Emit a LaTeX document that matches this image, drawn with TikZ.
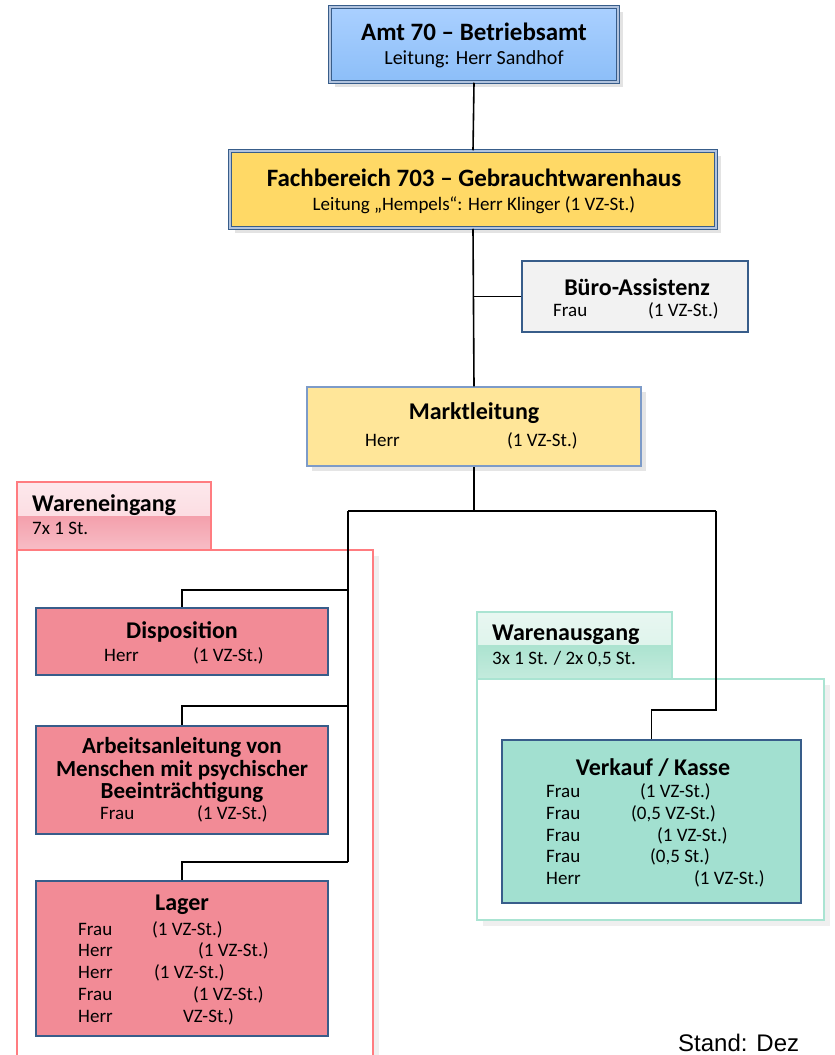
\documentclass[tikz,border=0pt]{standalone}
\usepackage{fontspec}
\setmainfont{Carlito}
\newfontfamily\standfont{Liberation Sans}
\usetikzlibrary{shadows}
\definecolor{lineBlue}{RGB}{56,93,138}
\definecolor{softBlue}{RGB}{125,155,200}
\definecolor{amtTop}{RGB}{170,208,255}
\definecolor{amtBot}{RGB}{140,190,248}
\definecolor{fachFill}{RGB}{255,217,102}
\definecolor{marktFill}{RGB}{255,230,153}
\definecolor{bueroFill}{RGB}{242,242,242}
\definecolor{pinkFill}{RGB}{242,139,150}
\definecolor{pinkLine}{RGB}{255,124,128}
\definecolor{pinkLight}{RGB}{253,232,236}
\definecolor{pinkMid}{RGB}{244,160,172}
\definecolor{mintFill}{RGB}{162,224,208}
\definecolor{mintLine}{RGB}{170,228,210}
\definecolor{mintLight}{RGB}{232,247,241}
\definecolor{mintMid}{RGB}{172,227,208}
\tikzset{orgbox/.style={draw=lineBlue, line width=1.5pt, inner sep=0pt},
    topbox/.style={orgbox, double=softBlue!60, double distance=1.4pt,
        drop shadow={shadow xshift=5pt, shadow yshift=-5pt, fill=black!22}},
    frame/.style={draw=#1, line width=1.3pt, fill=white,
        drop shadow={shadow xshift=6pt, shadow yshift=-6pt, fill=black!12}},
    headbox/.style={draw=#1, line width=1.3pt},
    title/.style={font=\bfseries\fontsize{24}{24.5}\selectfont, inner sep=0pt, align=center},
    body/.style={font=\fontsize{19}{21}\selectfont, inner sep=0pt, anchor=west,
        text height=12pt, text depth=3.5pt},
    conn/.style={line width=1.6pt},
    }

\begin{document}
\begin{tikzpicture}[x=1pt,y=-1pt]
	\useasboundingbox (0,0) rectangle (835,1055);
	% frames of the two groups
	\node[frame=pinkLine, minimum width=356pt, minimum height=520pt] (weFrame) at (195,810) {};
	\node[frame=mintLine, minimum width=347pt, minimum height=241pt] (waFrame) at (650.5,799.5) {};
	\node[headbox=pinkLine, minimum width=194pt, minimum height=68pt,
		path picture={\shade[top color=pinkLight, bottom color=pinkLight!70!pinkMid] (path picture bounding box.north west) rectangle (path picture bounding box.east);
		\shade[top color=pinkMid, bottom color=pinkMid!60!pinkLight] (path picture bounding box.west) rectangle (path picture bounding box.south east);}] (weHead) at (114,516) {};
	\node[headbox=mintLine, minimum width=195pt, minimum height=67pt,
		path picture={\shade[top color=mintLight, bottom color=mintLight!70!mintMid] (path picture bounding box.north west) rectangle (path picture bounding box.east);
		\shade[top color=mintMid, bottom color=mintMid!60!mintLight] (path picture bounding box.west) rectangle (path picture bounding box.south east);}] (waHead) at (574.5,645.5) {};
	\node[title, anchor=west] (weTitle) at (32,505) {Wareneingang};
	\node[body] (weCount) at (32,530) {7x 1 St.};
	\node[title, anchor=west] (waTitle) at (492,635) {Warenausgang};
	\node[body] (waCount) at (492,660) {3x 1 St. / 2x 0,5 St.};

	% connectors
	\coordinate (split) at (474,511);
	\coordinate (leftBus) at (348,511);
	\coordinate (rightBus) at (716,511);
	\coordinate (leftEnd) at (348,862);
	\coordinate (dispJoin) at (348,590);
	\coordinate (arbJoin) at (348,706);
	\coordinate (verkBend) at (716,710);

	% boxes
	\node[topbox, top color=amtTop, bottom color=amtBot, minimum width=288pt, minimum height=75pt] (amt) at (474,44.5) {};
	\node[topbox, fill=fachFill, minimum width=486pt, minimum height=77pt] (fach) at (473,189.5) {};
	\node[orgbox, fill=bueroFill, minimum width=226pt, minimum height=71pt] (buero) at (635,296.5) {};
	\node[orgbox, draw=softBlue, fill=marktFill, minimum width=334pt, minimum height=79pt,
		drop shadow={shadow xshift=5pt, shadow yshift=-5pt, fill=black!20}] (markt) at (474,426.5) {};
	\node[orgbox, fill=pinkFill, minimum width=292pt, minimum height=67pt] (disp) at (182,641.5) {};
	\node[orgbox, fill=pinkFill, minimum width=292pt, minimum height=108pt] (arbeit) at (182,780) {};
	\node[orgbox, fill=pinkFill, minimum width=292pt, minimum height=155pt] (lager) at (182,958.5) {};
	\node[orgbox, fill=mintFill, minimum width=299pt, minimum height=163pt] (verkauf) at (651.5,821.5) {};

	\draw[conn] (amt.south) -- (fach.north);
	\draw[conn] (fach.south) -- (markt.north);
	\draw[conn] (buero.west) -- (buero.west -| fach.south);
	\draw[conn] (markt.south) -- (split);
	\draw[conn] (leftBus) -- (rightBus);
	\draw[conn] (leftBus) -- (leftEnd);
	\draw[conn] (dispJoin) -| (disp.north);
	\draw[conn] (arbJoin) -| (arbeit.north);
	\draw[conn] (leftEnd) -| (lager.north);
	\draw[conn] (rightBus) -- (verkBend) -| (verkauf.north);

	% texts
	\node[title, font=\bfseries\fontsize{25}{26}\selectfont] (amtTitle) at (474,32) {Amt 70 -- Betriebsamt};
	\node[body, anchor=center, font=\fontsize{20}{21}\selectfont] (amtHead) at (474,60) {Leitung: Herr Sandhof};
	\node[title, font=\bfseries\fontsize{25}{26}\selectfont] (fachTitle) at (474,178) {Fachbereich 703 -- Gebrauchtwarenhaus};
	\node[body, anchor=center] (fachHead) at (474,206) {Leitung „Hempels“: Herr Klinger (1 VZ-St.)};
	\node[title] (bueroTitle) at (637,287) {Büro-Assistenz};
	\node[body] (bueroName) at (553,312) {Frau};
	\node[body] (bueroSt) at (648,312) {(1 VZ-St.)};
	\node[title] (marktTitle) at (474,413) {Marktleitung};
	\node[body] (marktName) at (365,442) {Herr};
	\node[body] (marktSt) at (507,442) {(1 VZ-St.)};
	\node[title] (dispTitle) at (182,632) {Disposition};
	\node[body] (dispName) at (104,657) {Herr};
	\node[body] (dispSt) at (193,657) {(1 VZ-St.)};
	\node[title, font=\bfseries\fontsize{23}{22.5}\selectfont] (arbTitle) at (182,770) {Arbeitsanleitung von\\Menschen mit psychischer\\Beeinträchtigung};
	\node[body] (arbName) at (100,815) {Frau};
	\node[body] (arbSt) at (197,815) {(1 VZ-St.)};
	\node[title] (lagerTitle) at (182,905) {Lager};
	\foreach \who/\st/\x [count=\i] in {Frau/(1 VZ-St.)/152, Herr/(1 VZ-St.)/198, Herr/(1 VZ-St.)/154, Frau/(1 VZ-St.)/193, Herr/VZ-St.)/183}{
		\node[body] (lagerName\i) at (78,909+21.8*\i) {\who};
		\node[body] (lagerSt\i) at (\x,909+21.8*\i) {\st};
	}
	\node[title] (verkTitle) at (653,768) {Verkauf / Kasse};
	\foreach \who/\st/\x [count=\i] in {Frau/{(1 VZ-St.)}/640, Frau/{(0,5 VZ-St.)}/631, Frau/{(1 VZ-St.)}/657, Frau/{(0,5 St.)}/650, Herr/{(1 VZ-St.)}/694}{
		\node[body] (verkName\i) at (546,771.5+21.8*\i) {\who};
		\node[body] (verkSt\i) at (\x,771.5+21.8*\i) {\st};
	}
	\node[anchor=base west, inner sep=0pt, font=\standfont\fontsize{24}{26}\selectfont] (stand) at (678,1051) {Stand: Dez};
\end{tikzpicture}
\end{document}
